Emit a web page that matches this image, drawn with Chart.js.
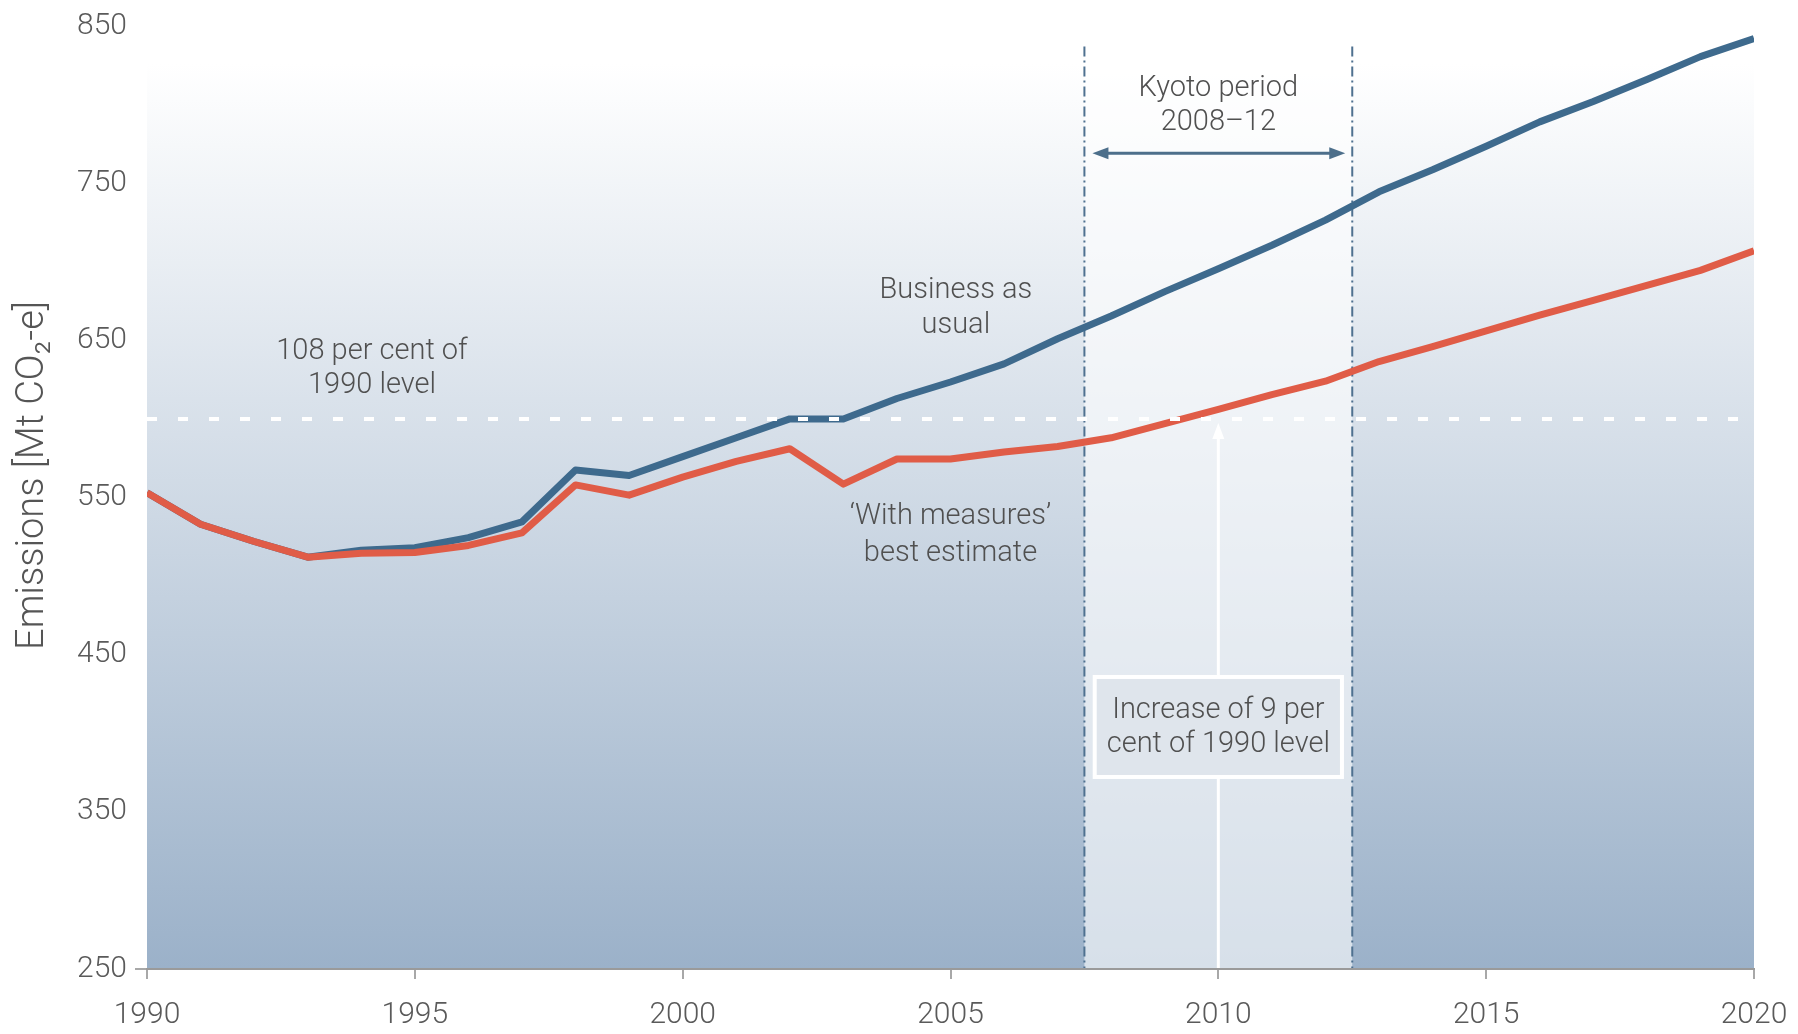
<!DOCTYPE html>
<html lang="en">
<head>
<meta charset="UTF-8">
<title>Emissions projections 1990-2020</title>
<script src="https://cdn.jsdelivr.net/npm/chart.js"></script>
<style>
  body { margin: 0; background: #ffffff; }
  #wrap { width: 1798px; height: 1034px; }
</style>
</head>
<body>
<div id="wrap"><canvas id="emissionsChart"></canvas></div>
<script>
// --- data (Mt CO2-e) ---
const years = [1990, 1991, 1992, 1993, 1994, 1995, 1996, 1997, 1998, 1999,
               2000, 2001, 2002, 2003, 2004, 2005, 2006, 2007, 2008, 2009,
               2010, 2011, 2012, 2013, 2014, 2015, 2016, 2017, 2018, 2019, 2020];
const withMeasures = [553, 533, 522, 512, 514.5, 515, 519.5, 527.5, 558, 551.5,
                      563, 573, 581, 558.5, 574.5, 574.5, 579, 582.5, 588, 597,
                      606, 615.5, 624, 636.5, 646, 656, 666, 675.5, 685, 694.5, 707];
const businessAsUsual = [553, 533, 522, 512, 516.5, 518, 524.5, 534.5, 567.5, 564,
                         576, 588, 600, 600, 613, 623.5, 635, 651, 665.5, 681,
                         695.5, 710.5, 726.5, 744.5, 758.5, 773.5, 789, 802, 816, 830.5, 842];
const level108 = 600;          // 108 per cent of 1990 level
const kyotoStart = 2007.5;
const kyotoEnd = 2012.5;
const yTickValues = [250, 350, 450, 550, 650, 750, 850];
const xTickValues = [1990, 1995, 2000, 2005, 2010, 2015, 2020];
const xTickLabels = ['1990', '1995', '2000', '2005', '2010', '2015', '2020'];

const FONT = 'Roboto, "Open Sans", sans-serif';
const TEXT = '#505050';
const NOTE_FONT = '300 29px ' + FONT;

function arrowHead(ctx, fx, fy, tx, ty, len, half) {
    const ang = Math.atan2(ty - fy, tx - fx);
    ctx.beginPath();
    ctx.moveTo(tx, ty);
    ctx.lineTo(tx - len * Math.cos(ang) + half * Math.sin(ang), ty - len * Math.sin(ang) - half * Math.cos(ang));
    ctx.lineTo(tx - len * Math.cos(ang) - half * Math.sin(ang), ty - len * Math.sin(ang) + half * Math.cos(ang));
    ctx.closePath();
    ctx.fill();
}

// background, Kyoto band, arrows, text box
const backdrop = {
    id: 'backdrop',
    beforeDraw(chart) {
        const { ctx, chartArea: a, scales: { x, y } } = chart;
        ctx.save();
        const g = ctx.createLinearGradient(0, a.top, 0, a.bottom);
        g.addColorStop(0, '#ffffff');
        g.addColorStop(0.04, '#ffffff');
        g.addColorStop(1, '#9bb1c9');
        ctx.fillStyle = g;
        ctx.fillRect(a.left, a.top, a.right - a.left, a.bottom - a.top);

        const x0 = x.getPixelForValue(kyotoStart);
        const x1 = x.getPixelForValue(kyotoEnd);
        ctx.fillStyle = 'rgba(255,255,255,0.6)';
        ctx.fillRect(x0, a.top, x1 - x0, a.bottom - a.top);

        // dash-dot period bounds
        ctx.strokeStyle = '#4f7190';
        ctx.lineWidth = 2;
        ctx.setLineDash([10, 4, 2, 4]);
        const yTop = y.getPixelForValue(837);
        [x0, x1].forEach(px => {
            ctx.beginPath();
            ctx.moveTo(px, yTop);
            ctx.lineTo(px, a.bottom);
            ctx.stroke();
        });
        ctx.setLineDash([]);

        // Kyoto double arrow
        const ay = y.getPixelForValue(769);
        const ax0 = x0 + 8, ax1 = x1 - 7;
        ctx.strokeStyle = '#4d6f8b';
        ctx.fillStyle = '#4d6f8b';
        ctx.lineWidth = 3;
        ctx.beginPath();
        ctx.moveTo(ax0 + 10, ay);
        ctx.lineTo(ax1 - 10, ay);
        ctx.stroke();
        arrowHead(ctx, ax1, ay, ax0, ay, 16, 6);
        arrowHead(ctx, ax0, ay, ax1, ay, 16, 6);

        // white arrow from axis up to the 108 per cent line
        const wx = x.getPixelForValue(2010);
        const wy = y.getPixelForValue(level108) + 4;
        ctx.strokeStyle = '#ffffff';
        ctx.fillStyle = '#ffffff';
        ctx.lineWidth = 3;
        ctx.beginPath();
        ctx.moveTo(wx, a.bottom);
        ctx.lineTo(wx, wy + 12);
        ctx.stroke();
        arrowHead(ctx, wx, a.bottom, wx, wy, 16, 6);

        // text box
        ctx.font = NOTE_FONT;
        const lines = ['Increase of 9 per', 'cent of 1990 level'];
        const tw = Math.max(...lines.map(s => ctx.measureText(s).width));
        const bw = tw + 24, bh = 100;
        const by = y.getPixelForValue(404);
        ctx.fillStyle = '#dfe5ec';
        ctx.fillRect(wx - bw / 2, by - bh / 2, bw, bh);
        ctx.strokeStyle = '#ffffff';
        ctx.lineWidth = 4;
        ctx.strokeRect(wx - bw / 2, by - bh / 2, bw, bh);
        ctx.fillStyle = TEXT;
        ctx.textAlign = 'center';
        ctx.textBaseline = 'middle';
        ctx.fillText(lines[0], wx, y.getPixelForValue(414.5));
        ctx.fillText(lines[1], wx, y.getPixelForValue(392.5));
        ctx.restore();
    },
    afterDatasetsDraw(chart) {
        const { ctx, chartArea: a, scales: { x, y } } = chart;
        ctx.save();
        ctx.fillStyle = TEXT;
        ctx.textAlign = 'center';
        ctx.textBaseline = 'middle';
        ctx.font = NOTE_FONT;
        const notes = [
            [1994.2, 643, '108 per cent of'], [1994.2, 621, '1990 level'],
            [2005.1, 681.5, 'Business as'], [2005.1, 659, 'usual'],
            [2005.0, 537.5, '\u2018With measures\u2019'], [2005.0, 514.5, 'best estimate'],
            [2010.0, 810, 'Kyoto period'], [2010.0, 788.5, '2008\u201312']
        ];
        notes.forEach(([vx, vy, s]) => ctx.fillText(s, x.getPixelForValue(vx), y.getPixelForValue(vy)));

        // axis title
        ctx.fillStyle = '#555555';
        ctx.font = '300 38px ' + FONT;
        ctx.translate(33, (a.top + a.bottom) / 2 - 22);
        ctx.rotate(-Math.PI / 2);
        ctx.fillText('Emissions [Mt CO\u2082-e]', 0, 0);
        ctx.restore();
    }
};

const ctx = document.getElementById('emissionsChart').getContext('2d');
new Chart(ctx, {
    type: 'line',
    data: {
        datasets: [
            {
                label: '108 per cent of 1990 level',
                data: [{ x: years[0], y: level108 }, { x: years[years.length - 1], y: level108 }],
                borderColor: '#ffffff',
                borderWidth: 4,
                borderDash: [10, 21],
                pointRadius: 0,
                order: 0
            },
            {
                label: "'With measures' best estimate",
                data: years.map((yr, i) => ({ x: yr, y: withMeasures[i] })),
                borderColor: '#e05c47',
                borderWidth: 7,
                pointRadius: 0,
                tension: 0,
                borderJoinStyle: 'round',
                order: 1
            },
            {
                label: 'Business as usual',
                data: years.map((yr, i) => ({ x: yr, y: businessAsUsual[i] })),
                borderColor: '#3e6a8d',
                borderWidth: 7,
                pointRadius: 0,
                tension: 0,
                borderJoinStyle: 'round',
                order: 2
            }
        ]
    },
    options: {
        responsive: true,
        maintainAspectRatio: false,
        animation: false,
        layout: { padding: { top: 22, right: 44, left: 0, bottom: 0 } },
        plugins: {
            legend: { display: false },
            tooltip: { enabled: false }
        },
        scales: {
            x: {
                type: 'linear',
                min: 1990,
                max: 2020,
                afterBuildTicks: s => { s.ticks = xTickValues.map(v => ({ value: v })); },
                afterFit: s => { s.height = 65; s.paddingLeft = 0; s.paddingRight = 0; },
                border: { display: true, color: '#9a9a9a', width: 2 },
                grid: { drawOnChartArea: false, drawTicks: true, tickLength: 10, color: '#a8a8a8', lineWidth: 2 },
                ticks: {
                    padding: 18,
                    color: '#5a5a5a',
                    font: { family: FONT, size: 30, weight: '300' },
                    maxRotation: 0,
                    callback: v => xTickLabels[xTickValues.indexOf(v)]
                }
            },
            y: {
                min: 250,
                max: 850,
                afterBuildTicks: s => { s.ticks = yTickValues.map(v => ({ value: v })); },
                afterFit: s => { s.width = 147; },
                border: { display: false },
                grid: {
                    drawOnChartArea: false,
                    drawTicks: true,
                    tickLength: 12,
                    lineWidth: 2,
                    color: c => (c.tick && c.tick.value === 250 ? '#a8a8a8' : 'rgba(0,0,0,0)')
                },
                ticks: {
                    padding: 8,
                    color: '#5a5a5a',
                    font: { family: FONT, size: 30, weight: '300' },
                    callback: v => String(v)
                }
            }
        }
    },
    plugins: [backdrop]
});
</script>
</body>
</html>
